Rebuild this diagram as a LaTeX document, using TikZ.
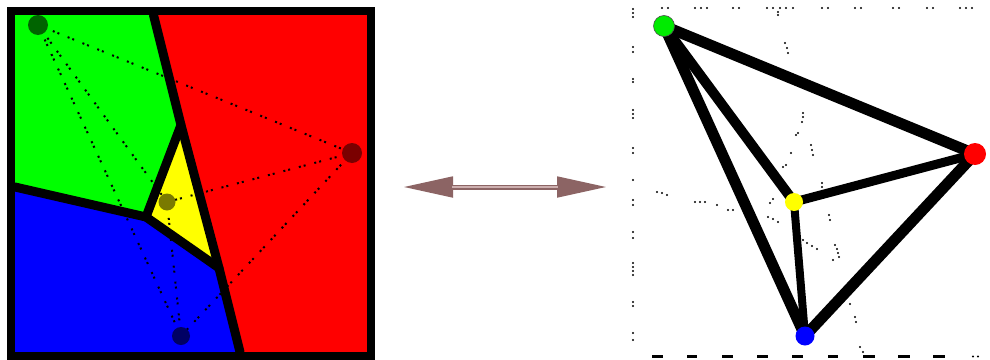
\documentclass[tikz,border=0pt]{standalone}
\usetikzlibrary{arrows.meta}
\definecolor{vgreen}{RGB}{0,255,0}
\definecolor{vred}{RGB}{255,0,0}
\definecolor{vblue}{RGB}{0,0,255}
\definecolor{vyellow}{RGB}{255,255,0}
\definecolor{sgreen}{RGB}{0,100,0}
\definecolor{sred}{RGB}{122,0,0}
\definecolor{syellow}{RGB}{122,122,0}
\definecolor{sblue}{RGB}{0,0,100}
\definecolor{arrowbrown}{RGB}{140,100,100}
\definecolor{arrowlight}{RGB}{205,175,175}
\definecolor{ngreen}{RGB}{0,235,0}
\tikzset{
  vline/.style={line width=9pt, line cap=round, line join=round},
  delaunay/.style={line width=2pt, dash pattern=on 2pt off 3pt on 2pt off 9pt},
  site/.style={circle, inner sep=0pt, minimum size=19pt},
  gnode/.style={circle, inner sep=0pt},
  gedge/.style={line width=11pt, line cap=round},
  sdot/.style={fill=black},
}
\begin{document}
\begin{tikzpicture}[x=1pt,y=-1pt]
\fill[white] (0,0) rectangle (990,359);
\useasboundingbox (0,0) rectangle (990,359);

% ---------- left panel: Voronoi diagram ----------
\coordinate (TL) at (11,11);
\coordinate (TR) at (370.5,11);
\coordinate (BR) at (370.5,355.5);
\coordinate (BL) at (11,355.5);
\coordinate (VT) at (153.5,15);
\coordinate (VA) at (181,125);
\coordinate (VB) at (146,217);
\coordinate (VC) at (219,268);
\coordinate (VD) at (240,352);
\coordinate (VE) at (15,187);

\fill[vgreen] (TL) -- (VT) -- (VA) -- (VB) -- (VE) -- cycle;
\fill[vred] (VT) -- (TR) -- (BR) -- (VD) -- (VC) -- (VA) -- cycle;
\fill[vblue] (VE) -- (VB) -- (VC) -- (VD) -- (BL) -- cycle;
\fill[vyellow] (VA) -- (VC) -- (VB) -- cycle;

\coordinate (sG) at (38,25);
\coordinate (sR) at (352,153);
\coordinate (sY) at (167,202);
\coordinate (sB) at (181,336);

\draw[delaunay] (sG) -- (sR);
\draw[delaunay] (sG) -- (sY);
\draw[delaunay] (sG) -- (sB);
\draw[delaunay] (sR) -- (sY);
\draw[delaunay] (sR) -- (sB);
\draw[delaunay] (sY) -- (sB);

\draw[vline] (VT) -- (VA) -- (VC) -- (VD);
\draw[vline] (VE) -- (VB) -- (VC);
\draw[vline] (VA) -- (VB);
\draw[line width=8pt] (TL) rectangle (BR);

\node[site, fill=sgreen, minimum size=20pt] (nsG) at (sG) {};
\node[site, fill=sred, minimum size=20pt] (nsR) at (sR) {};
\node[site, fill=syellow, minimum size=17pt] (nsY) at (sY) {};
\node[site, fill=sblue, minimum size=18pt] (nsB) at (sB) {};

% ---------- double arrow ----------
\coordinate (aL) at (403,187);
\coordinate (aR) at (607,187);
\draw[arrowbrown, line width=5pt, {Triangle[length=50pt,width=20pt]}-{Triangle[length=50pt,width=20pt]}] (aL) -- (aR);
\draw[arrowlight, line width=1.5pt, shorten <=49pt, shorten >=49pt] (aL) -- (aR);

% ---------- right panel: Delaunay graph ----------
\coordinate (G) at (664,26);
\coordinate (R) at (975,154);
\coordinate (Y) at (794,202);
\coordinate (B) at (805,336);

% stray dots
\foreach \x in {662,668,695,701,707,733,739,767,773,780,786,793,822,828,855,861,893,899,927,933,960,966,972}
  \fill[sdot] (\x,8) circle (1.2pt);
\foreach \y in {9,13,17,47,52,79,82,110,114,118,148,153,180,200,205,232,238,263,267,271,275,302,306,333,340}
  \fill[sdot] (633,\y) circle (1.2pt);
\foreach \a/\b in {652/663,687/697,722/733,757/768,792/803,828/838,863/875,898/910,933/945}
  \draw[line width=3pt] (\a,356.5) -- (\b,356.5);
\foreach \x/\y in {973/356.5,978/356.5,778/12,778/15,785/43,787/48,788/53,803/113,803/117,802/122,798/133,796/135,791/153,786/165,783/167,811/145,812/150,813/155,822/183,822/187,657/192,662/193,667/195,695/202,700/202,705/202,717/205,728/210,733/210,770/203,773/199,768/217,773/219,778/222,829/215,830/220,803/240,807/243,812/246,817/249,835/245,837/249,838/253,839/257,833/260,850/304,855/317,856/322,860/347,863/352}
  \fill[sdot] (\x,\y) circle (1.2pt);

\draw[gedge] (G) -- (R);
\draw[gedge, line width=10pt] (G) -- (Y);
\draw[gedge] (G) -- (B);
\draw[gedge, line width=9pt] (R) -- (Y);
\draw[gedge] (R) -- (B);
\draw[gedge, line width=8pt] (Y) -- (B);

\node[gnode, fill=ngreen, draw=black!70, line width=0.6pt, minimum size=21pt] (nG) at (G) {};
\node[gnode, fill=vred, minimum size=22pt] (nR) at (R) {};
\node[gnode, fill=vyellow, minimum size=18pt] (nY) at (Y) {};
\node[gnode, fill=vblue, minimum size=19pt] (nB) at (B) {};
\end{tikzpicture}
\end{document}
